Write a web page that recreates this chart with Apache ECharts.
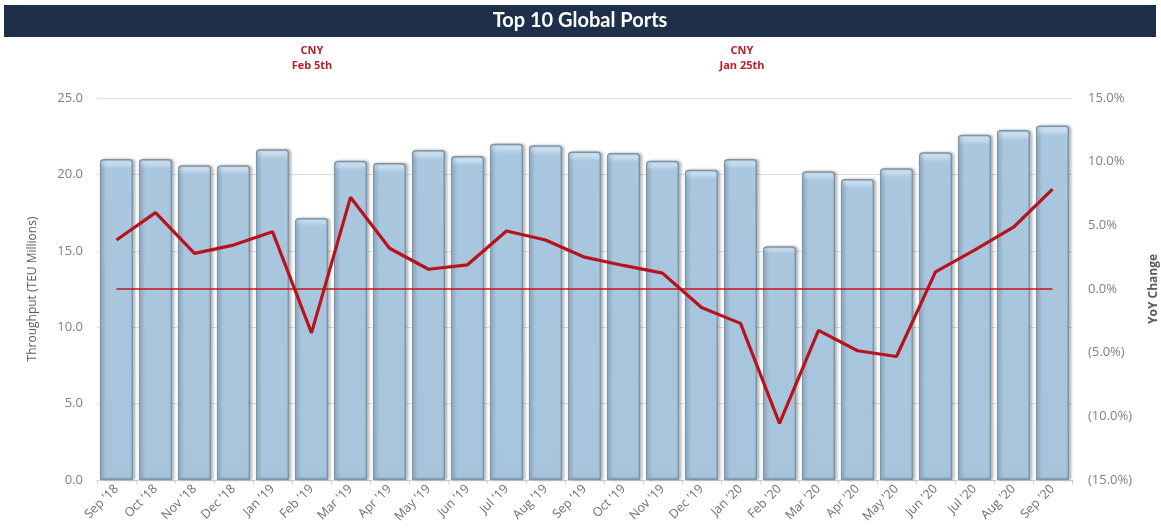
<!DOCTYPE html>
<html>
<head>
<meta charset="utf-8">
<script src="https://cdn.jsdelivr.net/npm/echarts@6/dist/echarts.min.js"></script>
<style>
html,body{margin:0;padding:0;background:#fff;}
#chart{width:1161px;height:531px;}
</style>
</head>
<body>
<div id="chart"></div>
<script>
var categories = ["Sep '18","Oct '18","Nov '18","Dec '18","Jan '19","Feb '19","Mar '19","Apr '19","May '19","Jun '19","Jul '19","Aug '19","Sep '19","Oct '19","Nov '19","Dec '19","Jan '20","Feb '20","Mar '20","Apr '20","May '20","Jun '20","Jul '20","Aug '20","Sep '20"];
var throughput = [21.0,21.0,20.6,20.6,21.65,17.15,20.9,20.75,21.6,21.2,22.0,21.9,21.5,21.4,20.9,20.3,21.0,15.3,20.2,19.7,20.4,21.45,22.6,22.9,23.2];
var yoyChange = [3.85,6.0,2.8,3.45,4.5,-3.45,7.2,3.2,1.55,1.9,4.55,3.85,2.5,1.85,1.25,-1.45,-2.7,-10.55,-3.25,-4.85,-5.3,1.35,3.05,4.85,7.85];
var zeroLine = categories.map(function(){ return 0; });
var leftTicks = {min:0, max:25, interval:5};
var rightTicks = {min:-15, max:15, interval:5};

var chart = echarts.init(document.getElementById('chart'));
var darkRed = '#b8131c';
chart.setOption({
  animation:false,
  backgroundColor:'#ffffff',
  graphic:[
    {type:'rect', shape:{x:4,y:5,width:1152,height:32}, style:{fill:'#1d2f49'}},
    {type:'text', x:580, y:21, style:{text:'Top 10 Global Ports', fill:'#ffffff', font:'bold 20px Lato', align:'center', verticalAlign:'middle'}},
    {type:'text', x:312, y:58, style:{text:'CNY\nFeb 5th', fill:'#b8202a', font:'bold 11px "Open Sans"', align:'center', verticalAlign:'middle', lineHeight:15}},
    {type:'text', x:742, y:58, style:{text:'CNY\nJan 25th', fill:'#b8202a', font:'bold 11px "Open Sans"', align:'center', verticalAlign:'middle', lineHeight:15}}
  ],
  grid:{left:97, right:89, top:98, bottom:51, containLabel:false, outerBoundsMode:'none'},
  xAxis:{
    type:'category', data:categories, boundaryGap:true,
    axisLine:{lineStyle:{color:'#d0d0d0', width:1}},
    axisTick:{show:true, length:4, lineStyle:{color:'#d0d0d0'}},
    axisLabel:{rotate:45, color:'#707070', fontSize:12.5, fontFamily:'Open Sans', margin:7, interval:0}
  },
  yAxis:[
    {type:'value', min:leftTicks.min, max:leftTicks.max, interval:leftTicks.interval,
     name:'Throughput (TEU Millions)', nameLocation:'middle', nameGap:58, nameRotate:90,
     nameTextStyle:{color:'#5a5a5a', fontSize:12, fontFamily:'Open Sans'},
     axisLine:{show:false}, axisTick:{show:false},
     axisLabel:{color:'#7f7f7f', fontSize:13, fontFamily:'Open Sans', margin:14, formatter:function(v){return v.toFixed(1);}},
     splitLine:{lineStyle:{color:'#dedede'}}},
    {type:'value', min:rightTicks.min, max:rightTicks.max, interval:rightTicks.interval,
     name:'YoY Change', nameLocation:'middle', nameGap:76, nameRotate:90,
     nameTextStyle:{color:'#5a5a5a', fontSize:12, fontFamily:'Open Sans', fontWeight:'bold'},
     axisLine:{show:false}, axisTick:{show:false}, splitLine:{show:false},
     axisLabel:{color:'#7f7f7f', fontSize:13, fontFamily:'Open Sans', margin:16,
       formatter:function(v){ return v<0 ? '(' + Math.abs(v).toFixed(1) + '%)' : v.toFixed(1) + '%'; }}}
  ],
  series:[
    {type:'bar', data:throughput, yAxisIndex:0, barCategoryGap:'15%',
     itemStyle:{
       color:new echarts.graphic.LinearGradient(0,0,0,1,[
         {offset:0,color:'#e3f0fa'},{offset:0.015,color:'#c4dcef'},{offset:0.03,color:'#a9c7df'},{offset:1,color:'#a6c4dc'}]),
       borderColor:'#7d95aa', borderWidth:1.5, borderRadius:[3,3,0,0],
       shadowColor:'rgba(0,0,0,0.25)', shadowBlur:3, shadowOffsetX:2, shadowOffsetY:0}},
    {type:'line', data:zeroLine, yAxisIndex:1, symbol:'none', silent:true,
     lineStyle:{color:'#c4161f', width:1.5}},
    {type:'line', data:yoyChange, yAxisIndex:1, symbol:'none',
     lineStyle:{color:darkRed, width:3.2}}
  ]
});
</script>
</body>
</html>
